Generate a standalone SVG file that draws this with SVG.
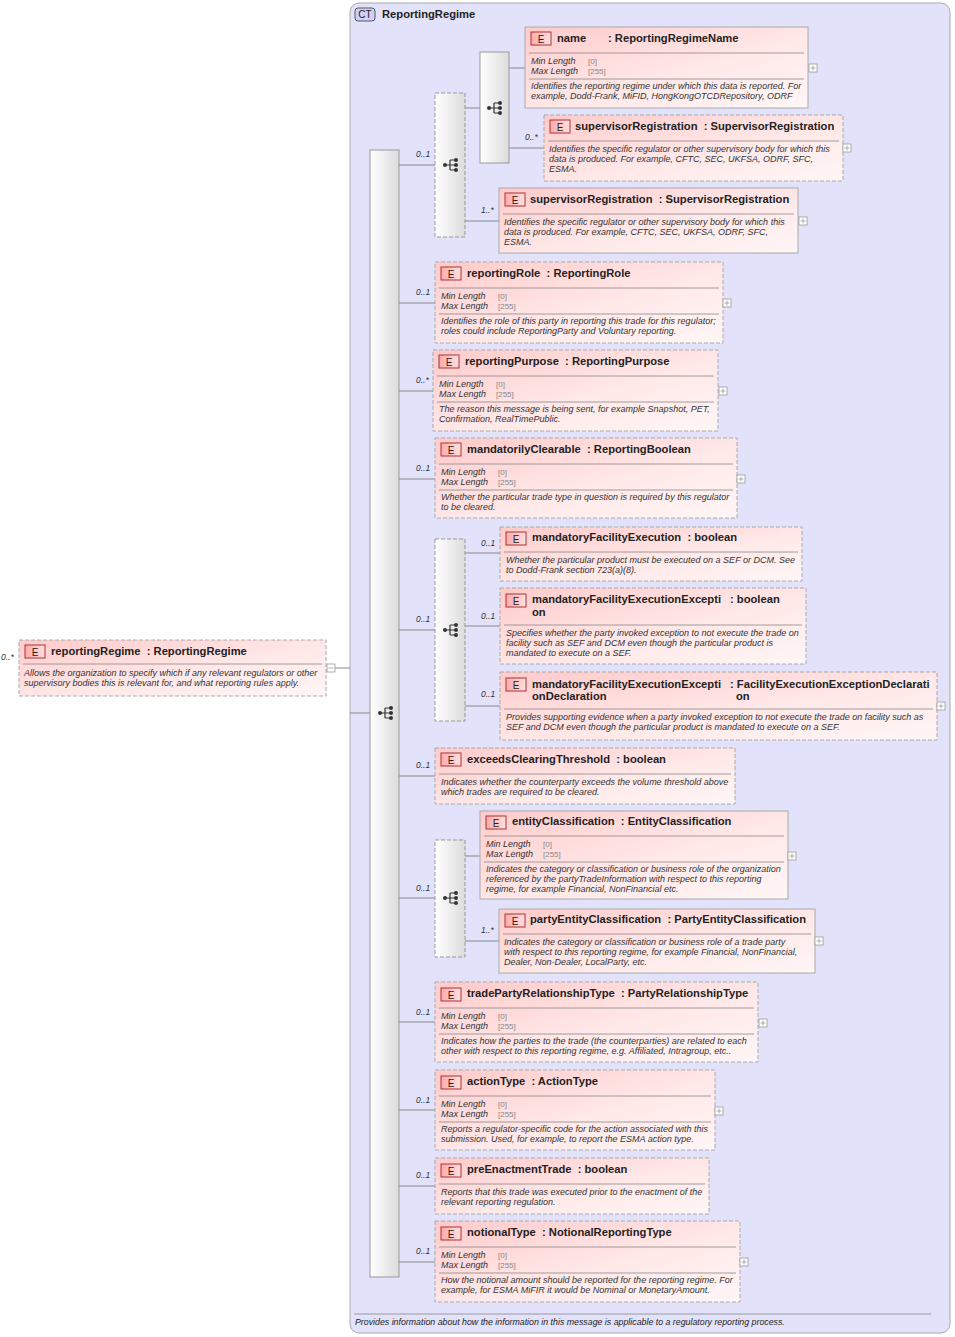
<svg xmlns="http://www.w3.org/2000/svg" xmlns:xlink="http://www.w3.org/1999/xlink" width="955" height="1337" viewBox="0 0 955 1337">
<style>
.h{font-family:"Liberation Sans",Arial,sans-serif;font-size:11.2px;font-weight:bold;fill:#222;white-space:pre}
.d{font-family:"Liberation Sans",Arial,sans-serif;font-size:9px;font-style:italic;fill:#333}
.f{font-family:"Liberation Sans",Arial,sans-serif;font-size:8.8px;font-style:italic;fill:#222}
.v{font-family:"Liberation Sans",Arial,sans-serif;font-size:8px;fill:#888}
.m{font-family:"Liberation Sans",Arial,sans-serif;font-size:8.5px;font-style:italic;fill:#333}
.el{fill:url(#eg);stroke:#aaa;stroke-width:1}
.op{stroke-dasharray:4,2}
.sep{stroke:#888;stroke-width:0.8}
.c{stroke:#888;stroke-width:1;fill:none}
.comp{fill:url(#cg);stroke:#999}
.pm{fill:#fff;stroke:#999;stroke-width:0.8}
</style>
<defs>
<linearGradient id="eg" x1="0" y1="0" x2="1" y2="1"><stop offset="0" stop-color="#ffcaca"/><stop offset="0.55" stop-color="#ffe8e8"/><stop offset="1" stop-color="#fff6f6"/></linearGradient>
<linearGradient id="cg" x1="0" y1="0" x2="1" y2="0"><stop offset="0" stop-color="#ffffff"/><stop offset="1" stop-color="#dcdcdc"/></linearGradient>
<linearGradient id="bg" x1="0" y1="0" x2="1" y2="0"><stop offset="0" stop-color="#ffaaaa"/><stop offset="1" stop-color="#ffe0e0"/></linearGradient>
<g id="ic"><circle cx="-6" cy="0" r="2" fill="#333"/><path d="M-6 0H-1M-1 -5V5M-1 -5H5M-1 0H5M-1 5H5" stroke="#333" stroke-width="1.2" fill="none"/><circle cx="5" cy="-5" r="2" fill="#333"/><circle cx="5" cy="0" r="2" fill="#333"/><circle cx="5" cy="5" r="2" fill="#333"/></g>
<g id="E"><rect x="0" y="0" width="20" height="13" fill="url(#bg)" stroke="#a33"/><text x="10" y="10.5" text-anchor="middle" font-family="Liberation Sans,Arial,sans-serif" font-size="10" fill="#222">E</text></g>
<g id="plus"><rect x="-4" y="-4" width="8" height="8" class="pm"/><path d="M-2.5 0H2.5M0 -2.5V2.5" stroke="#999" stroke-width="0.8"/></g>
<g id="minus"><rect x="-4" y="-4" width="8" height="8" class="pm"/><path d="M-2.5 0H2.5" stroke="#999" stroke-width="0.8"/></g>
</defs>
<rect width="955" height="1337" fill="#fff"/>
<g id="ct">
<rect x="350" y="3" width="600" height="1330" rx="9" fill="#e2e2fb" stroke="#aaa"/>
<rect x="355" y="8" width="20" height="13" rx="3" fill="#d0d0f4" stroke="#556"/>
<text x="365" y="18" text-anchor="middle" font-family="Liberation Sans,Arial,sans-serif" font-size="10" fill="#222">CT</text>
<text x="382" y="18" class="h">ReportingRegime</text>
<line x1="354" y1="1314" x2="931" y2="1314" class="sep"/>
<text x="355" y="1325" class="f">Provides information about how the information in this message is applicable to a regulatory reporting process.</text>
</g>
<g id="connectors">
<path class="c" d="M335 668H350M350 713H370"/>
<path class="c" d="M399 165H435M399 303H435M399 391H433M399 479H435M399 630H435M399 776H435M399 898H435M399 1022H435M399 1110H435M399 1186H435M399 1262H435"/>
<path class="c" d="M465 108H480M465 221H499M509 68H525M509 148H544"/>
<path class="c" d="M465 553H500M465 626H500M465 706H500M465 856H480M465 941H499"/>
<g class="m">
<text x="1" y="660">0..*</text>
<text x="416" y="157">0..1</text><text x="416" y="295">0..1</text><text x="416" y="383">0..*</text><text x="416" y="471">0..1</text>
<text x="416" y="622">0..1</text><text x="416" y="768">0..1</text><text x="416" y="891">0..1</text><text x="416" y="1015">0..1</text>
<text x="416" y="1103">0..1</text><text x="416" y="1178">0..1</text><text x="416" y="1254">0..1</text>
<text x="481" y="213">1..*</text><text x="525" y="140">0..*</text>
<text x="481" y="546">0..1</text><text x="481" y="619">0..1</text><text x="481" y="697">0..1</text><text x="481" y="933">1..*</text>
</g>
</g>
<g id="seqMain"><rect x="370" y="150" width="29" height="1127" class="comp"/><use xlink:href="#ic" x="386" y="713"/></g>
<g id="choice1"><rect x="435" y="93" width="30" height="144" class="comp op"/><use xlink:href="#ic" x="451" y="165"/></g>
<g id="seqInner"><rect x="480" y="52" width="29" height="111" class="comp"/><use xlink:href="#ic" x="495" y="108"/></g>
<g id="choice2"><rect x="435" y="539" width="30" height="182" class="comp op"/><use xlink:href="#ic" x="451" y="630"/></g>
<g id="choice3"><rect x="435" y="840" width="30" height="117" class="comp op"/><use xlink:href="#ic" x="451" y="898"/></g>

<g id="reportingRegime"><rect x="19" y="640" width="307" height="56" class="el op"/><use xlink:href="#E" x="25" y="645"/><text x="51" y="655" class="h">reportingRegime  : ReportingRegime</text><line x1="23" y1="664" x2="322" y2="664" class="sep"/><text x="24" y="676" class="d">Allows the organization to specify which if any relevant regulators or other</text><text x="24" y="686" class="d">supervisory bodies this is relevant for, and what reporting rules apply.</text><use xlink:href="#minus" x="331" y="668"/></g>

<g id="name"><rect x="525" y="27" width="283" height="81" class="el"/><use xlink:href="#E" x="531" y="32"/><text x="557" y="42" class="h">name</text><text x="608" y="42" class="h">: ReportingRegimeName</text><line x1="529" y1="53" x2="804" y2="53" class="sep"/><text x="531" y="64" class="d">Min Length</text><text x="588" y="64" class="v">[0]</text><text x="531" y="74" class="d">Max Length</text><text x="588" y="74" class="v">[255]</text><line x1="529" y1="79" x2="804" y2="79" class="sep"/><text x="531" y="89" class="d">Identifies the reporting regime under which this data is reported. For</text><text x="531" y="99" class="d">example, Dodd-Frank, MiFID, HongKongOTCDRepository, ODRF</text><use xlink:href="#plus" x="813" y="68"/></g>

<g id="supReg1"><rect x="544" y="115" width="299" height="66" class="el op"/><use xlink:href="#E" x="550" y="120"/><text x="575" y="130" class="h">supervisorRegistration  : SupervisorRegistration</text><line x1="548" y1="141" x2="839" y2="141" class="sep"/><text x="549" y="152" class="d">Identifies the specific regulator or other supervisory body for which this</text><text x="549" y="162" class="d">data is produced. For example, CFTC, SEC, UKFSA, ODRF, SFC,</text><text x="549" y="172" class="d">ESMA.</text><use xlink:href="#plus" x="847" y="148"/></g>

<g id="supReg2"><rect x="499" y="188" width="299" height="65" class="el"/><use xlink:href="#E" x="505" y="193"/><text x="530" y="203" class="h">supervisorRegistration  : SupervisorRegistration</text><line x1="503" y1="214" x2="794" y2="214" class="sep"/><text x="504" y="225" class="d">Identifies the specific regulator or other supervisory body for which this</text><text x="504" y="235" class="d">data is produced. For example, CFTC, SEC, UKFSA, ODRF, SFC,</text><text x="504" y="245" class="d">ESMA.</text><use xlink:href="#plus" x="803" y="221"/></g>

<g id="reportingRole"><rect x="435" y="262" width="288" height="81" class="el op"/><use xlink:href="#E" x="441" y="267"/><text x="467" y="277" class="h">reportingRole  : ReportingRole</text><line x1="439" y1="288" x2="719" y2="288" class="sep"/><text x="441" y="299" class="d">Min Length</text><text x="498" y="299" class="v">[0]</text><text x="441" y="309" class="d">Max Length</text><text x="498" y="309" class="v">[255]</text><line x1="439" y1="314" x2="719" y2="314" class="sep"/><text x="441" y="324" class="d">Identifies the role of this party in reporting this trade for this regulator;</text><text x="441" y="334" class="d">roles could include ReportingParty and Voluntary reporting.</text><use xlink:href="#plus" x="727" y="303"/></g>

<g id="reportingPurpose"><rect x="433" y="350" width="285" height="81" class="el op"/><use xlink:href="#E" x="439" y="355"/><text x="465" y="365" class="h">reportingPurpose  : ReportingPurpose</text><line x1="437" y1="376" x2="714" y2="376" class="sep"/><text x="439" y="387" class="d">Min Length</text><text x="496" y="387" class="v">[0]</text><text x="439" y="397" class="d">Max Length</text><text x="496" y="397" class="v">[255]</text><line x1="437" y1="402" x2="714" y2="402" class="sep"/><text x="439" y="412" class="d">The reason this message is being sent, for example Snapshot, PET,</text><text x="439" y="422" class="d">Confirmation, RealTimePublic.</text><use xlink:href="#plus" x="723" y="391"/></g>

<g id="mandatorilyClearable"><rect x="435" y="438" width="302" height="80" class="el op"/><use xlink:href="#E" x="441" y="443"/><text x="467" y="453" class="h">mandatorilyClearable  : ReportingBoolean</text><line x1="439" y1="464" x2="733" y2="464" class="sep"/><text x="441" y="475" class="d">Min Length</text><text x="498" y="475" class="v">[0]</text><text x="441" y="485" class="d">Max Length</text><text x="498" y="485" class="v">[255]</text><line x1="439" y1="490" x2="733" y2="490" class="sep"/><text x="441" y="500" class="d">Whether the particular trade type in question is required by this regulator</text><text x="441" y="510" class="d">to be cleared.</text><use xlink:href="#plus" x="741" y="479"/></g>

<g id="mfe"><rect x="500" y="527" width="302" height="54" class="el op"/><use xlink:href="#E" x="506" y="532"/><text x="532" y="541" class="h">mandatoryFacilityExecution  : boolean</text><line x1="504" y1="552" x2="798" y2="552" class="sep"/><text x="506" y="563" class="d">Whether the particular product must be executed on a SEF or DCM. See</text><text x="506" y="573" class="d">to Dodd-Frank section 723(a)(8).</text></g>

<g id="mfee"><rect x="500" y="588" width="306" height="76" class="el op"/><use xlink:href="#E" x="506" y="594"/><text x="532" y="603" class="h">mandatoryFacilityExecutionExcepti</text><text x="532" y="616" class="h">on</text><text x="730" y="603" class="h">: boolean</text><line x1="504" y1="625" x2="802" y2="625" class="sep"/><text x="506" y="636" class="d">Specifies whether the party invoked exception to not execute the trade on</text><text x="506" y="646" class="d">facility such as SEF and DCM even though the particular product is</text><text x="506" y="656" class="d">mandated to execute on a SEF.</text></g>

<g id="mfeed"><rect x="500" y="672" width="437" height="68" class="el op"/><use xlink:href="#E" x="506" y="678"/><text x="532" y="688" class="h">mandatoryFacilityExecutionExcepti</text><text x="532" y="700" class="h">onDeclaration</text><text x="730" y="688" class="h">: FacilityExecutionExceptionDeclarati</text><text x="736" y="700" class="h">on</text><line x1="504" y1="709" x2="933" y2="709" class="sep"/><text x="506" y="720" class="d">Provides supporting evidence when a party invoked exception to not execute the trade on facility such as</text><text x="506" y="730" class="d">SEF and DCM even though the particular product is mandated to execute on a SEF.</text><use xlink:href="#plus" x="941" y="706"/></g>

<g id="exceeds"><rect x="435" y="748" width="300" height="56" class="el op"/><use xlink:href="#E" x="441" y="753"/><text x="467" y="763" class="h">exceedsClearingThreshold  : boolean</text><line x1="439" y1="774" x2="731" y2="774" class="sep"/><text x="441" y="785" class="d">Indicates whether the counterparty exceeds the volume threshold above</text><text x="441" y="795" class="d">which trades are required to be cleared.</text></g>

<g id="entityClassification"><rect x="480" y="811" width="308" height="88" class="el"/><use xlink:href="#E" x="486" y="816"/><text x="512" y="825" class="h">entityClassification  : EntityClassification</text><line x1="484" y1="836" x2="784" y2="836" class="sep"/><text x="486" y="847" class="d">Min Length</text><text x="543" y="847" class="v">[0]</text><text x="486" y="857" class="d">Max Length</text><text x="543" y="857" class="v">[255]</text><line x1="484" y1="862" x2="784" y2="862" class="sep"/><text x="486" y="872" class="d">Indicates the category or classification or business role of the organization</text><text x="486" y="882" class="d">referenced by the partyTradeInformation with respect to this reporting</text><text x="486" y="892" class="d">regime, for example Financial, NonFinancial etc.</text><use xlink:href="#plus" x="792" y="856"/></g>

<g id="partyEntityClassification"><rect x="499" y="909" width="316" height="64" class="el"/><use xlink:href="#E" x="505" y="914"/><text x="530" y="923" class="h">partyEntityClassification  : PartyEntityClassification</text><line x1="503" y1="934" x2="811" y2="934" class="sep"/><text x="504" y="945" class="d">Indicates the category or classification or business role of a trade party</text><text x="504" y="955" class="d">with respect to this reporting regime, for example Financial, NonFinancial,</text><text x="504" y="965" class="d">Dealer, Non-Dealer, LocalParty, etc.</text><use xlink:href="#plus" x="819" y="941"/></g>

<g id="tradePartyRelationshipType"><rect x="435" y="982" width="323" height="80" class="el op"/><use xlink:href="#E" x="441" y="988"/><text x="467" y="997" class="h">tradePartyRelationshipType  : PartyRelationshipType</text><line x1="439" y1="1008" x2="754" y2="1008" class="sep"/><text x="441" y="1019" class="d">Min Length</text><text x="498" y="1019" class="v">[0]</text><text x="441" y="1029" class="d">Max Length</text><text x="498" y="1029" class="v">[255]</text><line x1="439" y1="1034" x2="754" y2="1034" class="sep"/><text x="441" y="1044" class="d">Indicates how the parties to the trade (the counterparties) are related to each</text><text x="441" y="1054" class="d">other with respect to this reporting regime, e.g. Affiliated, Intragroup, etc..</text><use xlink:href="#plus" x="763" y="1023"/></g>

<g id="actionType"><rect x="435" y="1070" width="280" height="80" class="el op"/><use xlink:href="#E" x="441" y="1076"/><text x="467" y="1085" class="h">actionType  : ActionType</text><line x1="439" y1="1096" x2="711" y2="1096" class="sep"/><text x="441" y="1107" class="d">Min Length</text><text x="498" y="1107" class="v">[0]</text><text x="441" y="1117" class="d">Max Length</text><text x="498" y="1117" class="v">[255]</text><line x1="439" y1="1122" x2="711" y2="1122" class="sep"/><text x="441" y="1132" class="d">Reports a regulator-specific code for the action associated with this</text><text x="441" y="1142" class="d">submission. Used, for example, to report the ESMA action type.</text><use xlink:href="#plus" x="719" y="1111"/></g>

<g id="preEnactmentTrade"><rect x="435" y="1158" width="274" height="56" class="el op"/><use xlink:href="#E" x="441" y="1164"/><text x="467" y="1173" class="h">preEnactmentTrade  : boolean</text><line x1="439" y1="1184" x2="705" y2="1184" class="sep"/><text x="441" y="1195" class="d">Reports that this trade was executed prior to the enactment of the</text><text x="441" y="1205" class="d">relevant reporting regulation.</text></g>

<g id="notionalType"><rect x="435" y="1221" width="305" height="81" class="el op"/><use xlink:href="#E" x="441" y="1227"/><text x="467" y="1236" class="h">notionalType  : NotionalReportingType</text><line x1="439" y1="1247" x2="736" y2="1247" class="sep"/><text x="441" y="1258" class="d">Min Length</text><text x="498" y="1258" class="v">[0]</text><text x="441" y="1268" class="d">Max Length</text><text x="498" y="1268" class="v">[255]</text><line x1="439" y1="1273" x2="736" y2="1273" class="sep"/><text x="441" y="1283" class="d">How the notional amount should be reported for the reporting regime. For</text><text x="441" y="1293" class="d">example, for ESMA MiFIR it would be Nominal or MonetaryAmount.</text><use xlink:href="#plus" x="744" y="1262"/></g>
</svg>
